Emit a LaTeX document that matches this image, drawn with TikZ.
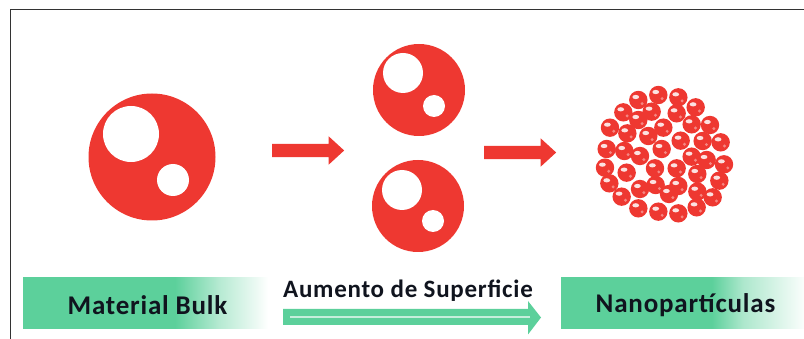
\documentclass[tikz,border=0pt]{standalone}
\usepackage{fontspec}
\setmainfont{Carlito}
\newfontfamily\bannerfont[LetterSpace=3]{Carlito}
\usetikzlibrary{shapes.arrows}
\definecolor{rojo}{HTML}{EE3831}
\definecolor{verde}{HTML}{5CD09B}
\definecolor{tinta}{HTML}{10141E}
% a path's bounding box spans 25bp to 75bp of these shadings
\pgfdeclarehorizontalshading{fadeA}{100bp}{color(0bp)=(verde); color(56bp)=(verde);
  color(65bp)=(verde!45!white); color(72.5bp)=(verde!12!white); color(75bp)=(white); color(100bp)=(white)}
\pgfdeclarehorizontalshading{fadeB}{100bp}{color(0bp)=(verde); color(56bp)=(verde);
  color(62.5bp)=(verde!50!white); color(75bp)=(verde!3!white); color(100bp)=(white)}
\tikzset{
  disc/.style={circle,fill=rojo,inner sep=0pt,minimum size=#1},
  hole/.style={circle,fill=white,inner sep=0pt,minimum size=#1},
  blockarrow/.style={single arrow,fill=rojo,inner sep=0pt,minimum height=72pt,
    minimum width=28pt,single arrow head extend=7.5pt,single arrow tip angle=85,
    anchor=center},
  banner/.style={font=\bannerfont\fontsize{27}{29}\selectfont\bfseries,text=tinta,inner sep=0pt},
}
% one small sphere: red body, main glint, faint lower glint
\newcommand{\bead}[2]{%
  \fill[rojo] (#1,#2) circle (9.2pt);
  \fill[white,opacity=.85] (#1-2.6,#2-3) ellipse (3.4pt and 2.1pt);
  \fill[white,opacity=.4] (#1+3.8,#2+3.6) circle (1.6pt);
}
\begin{document}
\begin{tikzpicture}[x=1pt,y=-1pt]
\useasboundingbox (0,0) rectangle (804,339);
% frame
\draw[line width=1.3pt,color=black!80] (10.5,339) -- (10.5,9.6) -- (804,9.6);

% bulk material
\node[disc=127pt] (bulk) at (152,157) {};
\node[hole=56pt] (bulkA) at (131,134) {};
\node[hole=32pt] (bulkB) at (173,180) {};

% split pieces
\node[disc=92pt] (top) at (419,90) {};
\node[hole=40pt] (topA) at (403,73) {};
\node[hole=22pt] (topB) at (434,106) {};
\node[disc=92pt] (bot) at (418,206) {};
\node[hole=40pt] (botA) at (402,190) {};
\node[hole=22pt] (botB) at (433,221) {};

% step arrows
\node[blockarrow] (stepA) at (304.5,150.5) {\rule{0pt}{13pt}};
\node[blockarrow] (stepB) at (516.5,152.5) {\rule{0pt}{13pt}};

% nanoparticle cluster
\foreach \zx/\zy in {145/60,205/45,265/52,317/82,100/97,185/95,260/100,145/120,
  305/133,360/135,60/143,112/160,220/143,175/168,272/182,338/183,392/187,50/207,
  103/213,215/207,150/228,305/230,350/240,402/253,45/263,195/265,260/265,110/278,
  322/282,58/310,388/302,150/327,197/315,265/318,237/342,322/335,95/350,368/352,
  145/385,205/395,265/400,320/382}{
  \pgfmathsetmacro{\px}{590+\zx/3}
  \pgfmathsetmacro{\py}{80+\zy/3}
  \bead{\px}{\py}
}

% banners
\shade[shading=fadeA] (23,278) rectangle (268,329);
\node[banner] (bulkLabel) at (147.5,305.5) {Material Bulk};

\shade[shading=fadeB] (561,278) rectangle (804,329);
\node[banner] (nanoLabel) at (685.5,305.5) {Nanopartículas};

\node[banner,font=\bannerfont\fontsize{25}{27}\selectfont\bfseries] (surfLabel) at (408,290.5) {Aumento de Superficie};

% long green arrow with a pale centre line
\fill[verde] (283,309) -- (528,309) -- (528,301) -- (541,317.5) -- (528,334.5)
  -- (528,325) -- (283,325) -- cycle;
\draw[white,opacity=.65,line width=1.2pt] (290,317) -- (530,317);
\end{tikzpicture}
\end{document}
